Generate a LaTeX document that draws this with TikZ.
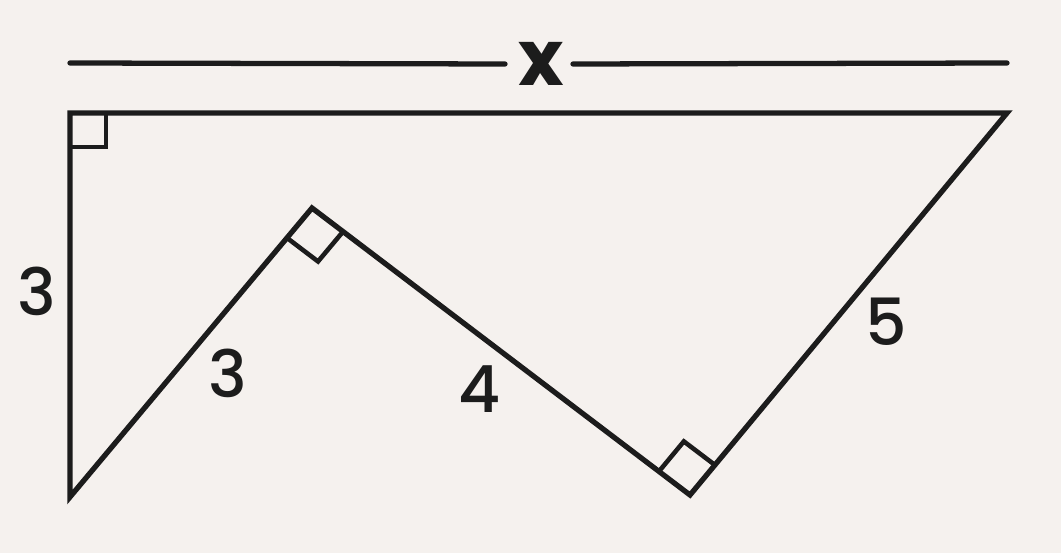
\documentclass[tikz,border=0pt]{standalone}
\usepackage{fontspec}
\setmainfont{Poppins}[UprightFont=* Medium, BoldFont=* Bold]
\usetikzlibrary{calc}
\definecolor{paper}{HTML}{F5F1EE}
\definecolor{ink}{HTML}{1C1C1C}

\begin{document}
\begin{tikzpicture}[x=0.02cm,y=-0.02cm,
        edge/.style={draw=ink, line width=3pt, line join=miter},
        dimline/.style={draw=ink, line width=3pt, line cap=round},
        rmark/.style={draw=ink, line width=2.6pt},
        lbl/.style={text=ink, inner sep=0pt, font=\fontsize{37}{42}\selectfont}]

    % background and size
    \fill[paper] (0,0) rectangle (1061,553);
    \useasboundingbox (0,0) rectangle (1061,553);

    % corners of the figure
    \coordinate (tl) at (70,113);
    \coordinate (tr) at (1007,113);
    \coordinate (bl) at (70,497);
    \coordinate (peak) at (312,208);
    \coordinate (valley) at (690,495);

    % outline
    \draw[edge] (tl) -- (tr) -- (valley) -- (peak) -- (bl) -- cycle;

    % right angles
    \draw[rmark] (106,113) -- (106,147) -- (70,147);
    \draw[rmark] ($(peak)!0.78cm!(bl)$)
        -- ($($(peak)!0.78cm!(bl)$)+($(peak)!0.78cm!(valley)$)-(peak)$)
        -- ($(peak)!0.78cm!(valley)$);
    \draw[rmark] ($(valley)!0.78cm!(peak)$)
        -- ($($(valley)!0.78cm!(peak)$)+($(valley)!0.78cm!(tr)$)-(valley)$)
        -- ($(valley)!0.78cm!(tr)$);

    % dimension x
    \node[lbl, font=\fontsize{44}{48}\selectfont\bfseries] (xlbl) at (541,64) {x};
    \coordinate (dl) at (70,63);
    \coordinate (dr) at (1007,63);
    \draw[dimline] (dl) -- (xlbl.west -| 505,0);
    \draw[dimline] (dr) -- (xlbl.east -| 573,0);

    % side lengths
    \node[lbl] (sideleft) at (37,291) {3};
    \node[lbl] (sideup) at (228,373) {3};
    \node[lbl] (sidedown) at (480,389) {4};
    \node[lbl] (sideright) at (886,322) {5};

\end{tikzpicture}
\end{document}
